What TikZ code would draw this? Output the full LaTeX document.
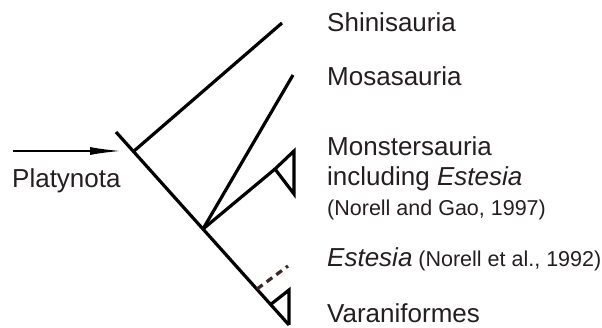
\documentclass[tikz,border=0pt]{standalone}
\usepackage{fontspec}
\setmainfont{Liberation Sans}
\usetikzlibrary{arrows.meta}
\definecolor{txtcol}{RGB}{35,31,32}
\definecolor{dashcol}{RGB}{60,40,40}
\newcommand\refsize{\fontsize{21.5}{25}\selectfont}

\begin{document}
\begin{tikzpicture}[x=1pt,y=-1pt,
    branch/.style={line width=3.2pt},
    taxon/.style={anchor=base west,inner sep=0pt,text=txtcol,font=\fontsize{26}{30}\selectfont}]
    \useasboundingbox (0,0) rectangle (602,328);
    \coordinate (root) at (116,132);
    \coordinate (tip) at (289,325);
    \coordinate (n1) at (134,151);
    \coordinate (n2) at (203,229);
    \coordinate (n3) at (257,289);
    \coordinate (n4) at (270,305);
    \coordinate (shin) at (282,23);
    \coordinate (mosa) at (293,75);
    \coordinate (mons) at (275,169);
    \coordinate (est) at (288,266);
    \coordinate (arrowstart) at (13,151);
    \coordinate (arrowend) at (122,151);
    \draw[branch] (root) -- (tip);
    \draw[branch] (n1) -- (shin);
    \draw[branch] (n2) -- (mosa);
    \draw[branch] (n2) -- (mons);
    \draw[branch] (mons) -- (294,151) -- (294,194) -- cycle;
    \draw[branch] (n4) -- (289,290) -- (tip);
    \draw[branch,dashcol,dash pattern=on 7pt off 5pt] (n3) -- (est);
    \draw[line width=2pt,-{Latex[length=32pt,width=8pt]}] (arrowstart) -- (arrowend);
    \node[taxon] (shinisauria) at (327,32) {Shinisauria};
    \node[taxon] (mosasauria) at (327,86) {Mosasauria};
    \node[taxon] (monstersauria) at (327,156) {Monstersauria};
    \node[taxon] (including) at (327,186) {including \textit{Estesia}};
    \node[taxon] (gao) at (327,216) {\refsize(Norell and Gao, 1997)};
    \node[taxon] (estesia) at (327,267) {\textit{Estesia}{\refsize\ (Norell et al., 1992)}};
    \node[taxon] (varaniformes) at (327,323) {Varaniformes};
    \node[taxon] (platynota) at (12,188) {Platynota};
\end{tikzpicture}
\end{document}
